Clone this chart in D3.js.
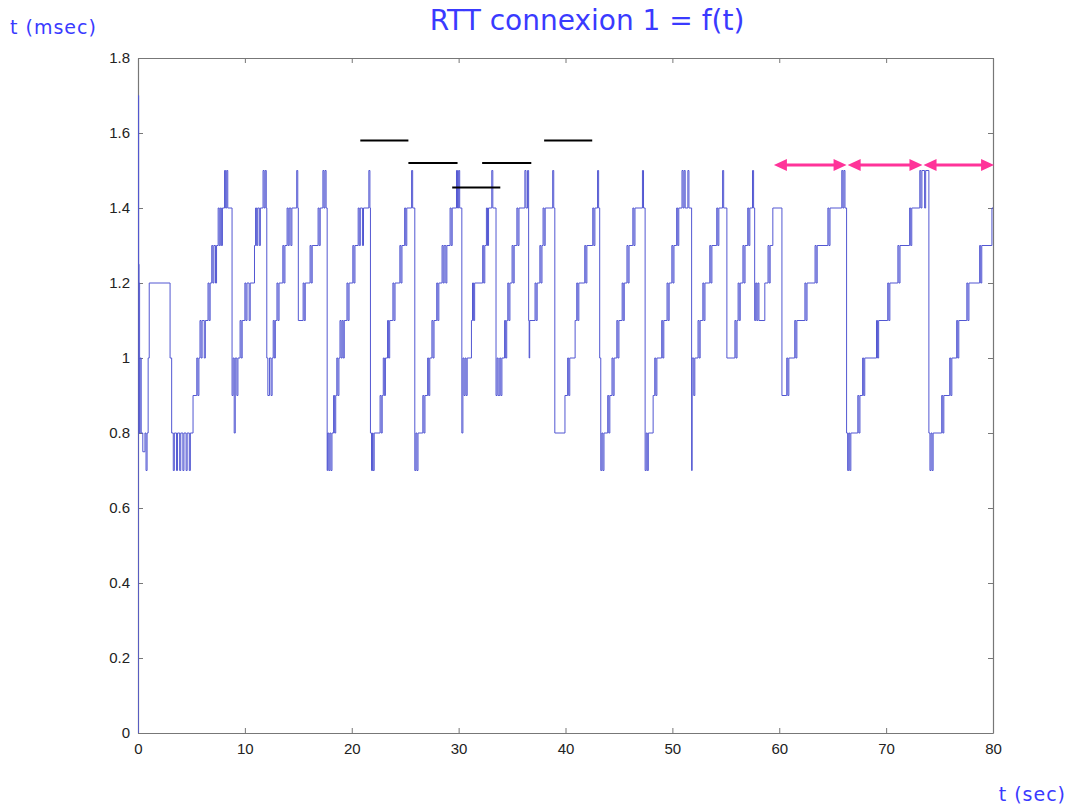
<!DOCTYPE html>
<html>
<head>
<meta charset="utf-8">
<script src="https://cdn.jsdelivr.net/npm/d3@7"></script>
<style>
  body { margin: 0; background: #fff; }
  text { font-family: Arial, "Liberation Sans", sans-serif; }
</style>
</head>
<body>
<svg id="chart" width="1069" height="805"></svg>
<script>
// RTT connexion 1 = f(t) -- step trace

const xTicks = [0, 10, 20, 30, 40, 50, 60, 70, 80];
const yTicks = [0, 0.2, 0.4, 0.6, 0.8, 1, 1.2, 1.4, 1.6, 1.8];

// [t (sec), rtt (msec)] breakpoints, held until the next one
const rttSamples = [
  [0,0],[0.03,1.7],[0.06,1.25],[0.1,1.2],[0.15,0.8],[0.2,1.0],[0.3,0.8],[0.45,0.75],[0.65,0.8],[0.75,0.7],
  [0.85,0.8],[0.95,1.0],[1.05,1.2],[3.0,1.0],[3.15,0.8],[3.3,0.7],[3.4,0.8],[3.6,0.7],[3.7,0.8],[3.9,0.7],
  [4.0,0.8],[4.2,0.7],[4.3,0.8],[4.5,0.7],[4.6,0.8],[4.8,0.7],[4.9,0.8],
  [5.15,0.9],[5.5,1.0],[5.6,0.9],[5.7,1.0],[5.8,1.1],[5.9,1.0],[6.0,1.1],[6.2,1.0],[6.3,1.1],[6.55,1.2],
  [6.65,1.1],[6.75,1.2],[6.9,1.3],[7.0,1.2],[7.1,1.3],[7.25,1.2],[7.35,1.3],[7.5,1.4],[7.6,1.3],[7.7,1.4],
  [7.8,1.3],[7.9,1.4],[8.1,1.5],[8.2,1.4],[8.3,1.5],[8.4,1.4],[8.8,0.9],[8.9,1.0],[9.0,0.8],[9.1,1.0],
  [9.25,0.9],[9.35,1.0],[9.55,1.1],[9.65,1.0],[9.75,1.1],[10.0,1.2],[10.1,1.1],[10.2,1.2],[10.4,1.1],[10.5,1.2],
  [10.9,1.3],[11.0,1.4],[11.1,1.3],[11.2,1.4],[11.35,1.3],[11.45,1.4],[11.7,1.5],[11.8,1.4],[11.9,1.5],[12.0,1.4],
  [12.05,1.0],[12.15,0.9],[12.3,1.0],[12.45,0.9],[12.55,1.0],[12.65,1.1],[12.75,1.0],[12.85,1.1],[13.0,1.2],[13.1,1.1],
  [13.2,1.2],[13.55,1.3],[13.65,1.2],[13.75,1.3],[13.95,1.4],[14.05,1.3],[14.15,1.4],[14.3,1.3],[14.4,1.4],[14.85,1.5],
  [14.95,1.4],[15.0,1.1],[15.45,1.2],[15.55,1.1],[15.65,1.2],[16.1,1.3],[16.2,1.2],[16.3,1.3],[16.85,1.4],[16.95,1.3],
  [17.05,1.4],[17.3,1.5],[17.4,1.4],[17.5,1.5],[17.6,1.4],[17.7,0.7],[17.75,0.8],[17.85,0.7],[17.95,0.8],[18.05,0.7],
  [18.15,0.8],[18.3,0.9],[18.4,0.8],[18.5,0.9],[18.6,1.0],[18.7,0.9],[18.8,1.0],[18.9,1.1],[19.0,1.0],[19.1,1.1],
  [19.2,1.0],[19.3,1.1],[19.55,1.2],[19.65,1.1],[19.75,1.2],[20.1,1.3],[20.2,1.2],[20.3,1.3],[20.6,1.4],[20.7,1.3],
  [20.8,1.4],[21.0,1.3],[21.1,1.4],[21.6,1.5],[21.7,1.4],[21.75,0.8],[21.85,0.7],[21.95,0.8],[22.0,0.7],[22.1,0.8],
  [22.65,0.9],[22.75,0.8],[22.85,0.9],[22.95,1.0],[23.05,0.9],[23.15,1.0],[23.35,1.1],[23.45,1.0],[23.55,1.1],[23.85,1.2],
  [23.95,1.1],[24.05,1.2],[24.5,1.3],[24.6,1.2],[24.7,1.3],[24.95,1.4],[25.05,1.3],[25.15,1.4],[25.6,1.5],[25.7,1.4],
  [25.9,0.7],[26.0,0.8],[26.1,0.7],[26.2,0.8],[26.65,0.9],[26.75,0.8],[26.85,0.9],[27.1,1.0],[27.2,0.9],[27.3,1.0],
  [27.5,1.1],[27.6,1.0],[27.7,1.1],[27.95,1.2],[28.05,1.1],[28.15,1.2],[28.45,1.3],[28.55,1.2],[28.65,1.3],[28.8,1.2],
  [28.9,1.3],[29.2,1.4],[29.3,1.3],[29.4,1.4],[29.8,1.5],[29.9,1.4],[30.0,1.5],[30.1,1.4],[30.3,0.8],[30.4,1.0],
  [30.5,0.9],[30.6,1.0],[30.7,0.9],[30.8,1.0],[31.2,1.1],[31.3,1.2],[31.4,1.1],[31.5,1.2],[32.25,1.3],[32.35,1.2],
  [32.45,1.3],[32.6,1.4],[32.7,1.3],[32.8,1.4],[33.1,1.5],[33.2,1.4],[33.5,0.9],[33.6,1.0],[33.7,0.9],[33.85,1.0],
  [33.95,0.9],[34.05,1.0],[34.3,1.1],[34.4,1.0],[34.5,1.1],[34.6,1.2],[34.7,1.1],[34.8,1.2],[35.0,1.3],[35.1,1.2],
  [35.2,1.3],[35.45,1.4],[35.55,1.3],[35.65,1.4],[36.2,1.5],[36.3,1.4],[36.45,1.5],[36.55,1.1],[36.6,1.0],[36.65,1.1],
  [37.15,1.2],[37.25,1.1],[37.35,1.2],[37.6,1.3],[37.7,1.2],[37.8,1.3],[37.9,1.4],[38.0,1.3],[38.1,1.4],[38.8,1.5],
  [38.9,1.4],[39.0,0.8],[39.95,0.9],[40.2,1.0],[40.3,0.9],[40.4,1.0],[40.9,1.1],[41.05,1.2],[41.15,1.1],[41.25,1.2],
  [41.8,1.3],[41.9,1.2],[42.0,1.3],[42.55,1.4],[42.65,1.3],[42.75,1.4],[43.0,1.5],[43.1,1.4],[43.2,1.0],[43.3,0.7],
  [43.4,0.8],[43.5,0.7],[43.6,0.8],[43.95,0.9],[44.05,0.8],[44.15,0.9],[44.35,1.0],[44.45,0.9],[44.55,1.0],[44.8,1.1],
  [44.9,1.0],[45.0,1.1],[45.3,1.2],[45.4,1.1],[45.5,1.2],[45.75,1.3],[45.85,1.2],[45.95,1.3],[46.3,1.4],[46.4,1.3],
  [46.5,1.4],[47.2,1.5],[47.3,1.4],[47.45,0.7],[47.55,0.8],[47.65,0.7],[47.75,0.8],[48.2,0.9],[48.35,1.0],[48.45,0.9],
  [48.55,1.0],[49.0,1.1],[49.1,1.0],[49.2,1.1],[49.5,1.2],[49.6,1.1],[49.7,1.2],[49.95,1.3],[50.05,1.2],[50.15,1.3],
  [50.4,1.4],[50.5,1.3],[50.6,1.4],[50.9,1.5],[51.0,1.4],[51.1,1.5],[51.2,1.4],[51.45,1.5],[51.55,1.4],[51.8,0.7],
  [51.85,1.0],[52.0,0.9],[52.1,1.0],[52.4,1.1],[52.5,1.0],[52.6,1.1],[52.85,1.2],[52.95,1.1],[53.05,1.2],[53.5,1.3],
  [53.6,1.2],[53.7,1.3],[54.15,1.4],[54.25,1.3],[54.35,1.4],[54.7,1.5],[54.8,1.4],[55.1,1.0],[55.85,1.1],[55.95,1.0],
  [56.05,1.1],[56.15,1.2],[56.25,1.1],[56.35,1.2],[56.6,1.3],[56.7,1.2],[56.8,1.3],[57.05,1.4],[57.15,1.3],[57.25,1.4],
  [57.5,1.5],[57.6,1.4],[57.7,1.1],[57.8,1.2],[57.9,1.1],[58.0,1.2],[58.1,1.1],[58.65,1.2],[58.95,1.3],[59.05,1.2],
  [59.15,1.3],[59.4,1.4],[60.25,0.9],[60.7,1.0],[60.8,0.9],[60.9,1.0],[61.45,1.1],[61.55,1.0],[61.65,1.1],[62.4,1.2],
  [62.5,1.1],[62.6,1.2],[63.35,1.3],[63.45,1.2],[63.55,1.3],[64.55,1.4],[64.65,1.3],[64.75,1.4],[65.85,1.5],[65.95,1.4],
  [66.05,1.5],[66.15,1.4],[66.3,0.8],[66.4,0.7],[66.5,0.8],[66.6,0.7],[66.7,0.8],[67.35,0.9],[67.45,0.8],[67.55,0.9],
  [67.8,1.0],[67.9,0.9],[68.0,1.0],[69.1,1.1],[69.2,1.0],[69.3,1.1],[70.15,1.2],[70.25,1.1],[70.35,1.2],[71.1,1.3],
  [71.2,1.2],[71.3,1.3],[72.2,1.4],[72.3,1.3],[72.4,1.4],[73.15,1.5],[73.25,1.4],[73.35,1.5],[73.6,1.4],[73.7,1.5],
  [74.0,0.8],[74.1,0.7],[74.2,0.8],[74.3,0.7],[74.4,0.8],[75.2,0.9],[75.3,0.8],[75.4,0.9],[75.95,1.0],[76.05,0.9],
  [76.15,1.0],[76.6,1.1],[76.7,1.0],[76.8,1.1],[77.55,1.2],[77.65,1.1],[77.75,1.2],[78.75,1.3],[78.85,1.2],[78.95,1.3],
  [79.9,1.4],[80,1.4]
];

// black bars marking the periods: [t start, t end, level]
const periodBars = [
  [20.8, 25.3, 1.58],
  [25.3, 29.9, 1.52],
  [29.4, 33.9, 1.455],
  [32.2, 36.8, 1.52],
  [38.0, 42.5, 1.58]
];

// pink double arrows over the last three cycles: [t start, t end, level]
const cycleArrows = [
  [59.5, 66.3, 1.515],
  [66.4, 73.4, 1.515],
  [73.5, 80.1, 1.515]
];

const svg = d3.select("#chart");
const plot = { left: 138, right: 993, top: 58, bottom: 733 };

const x = d3.scaleLinear().domain([0, 80]).range([plot.left, plot.right]);
const y = d3.scaleLinear().domain([0, 1.8]).range([plot.bottom, plot.top]);

svg.append("rect").attr("width", 1069).attr("height", 805).attr("fill", "#fff");

svg.append("defs").append("clipPath").attr("id", "clip")
  .append("rect")
  .attr("x", plot.left).attr("y", plot.top)
  .attr("width", plot.right - plot.left).attr("height", plot.bottom - plot.top);

const fmt = d => String(+d.toFixed(1));

// MATLAB style box with inward ticks on all sides
function styleAxis(g) {
  g.select(".domain").attr("stroke", "#777").attr("stroke-width", 1.2);
  g.selectAll(".tick line").attr("stroke", "#777");
  g.selectAll("text").attr("fill", "#222").style("font-size", "15px");
}

svg.append("g")
  .attr("transform", `translate(0,${plot.bottom})`)
  .call(d3.axisBottom(x).tickValues(xTicks).tickFormat(fmt).tickSizeInner(-5).tickSizeOuter(0).tickPadding(10))
  .call(styleAxis);

svg.append("g")
  .attr("transform", `translate(0,${plot.top})`)
  .call(d3.axisTop(x).tickValues(xTicks).tickFormat("").tickSizeInner(-5).tickSizeOuter(0))
  .call(styleAxis);

svg.append("g")
  .attr("transform", `translate(${plot.left},0)`)
  .call(d3.axisLeft(y).tickValues(yTicks).tickFormat(fmt).tickSizeInner(-5).tickSizeOuter(0).tickPadding(8))
  .call(styleAxis);

svg.append("g")
  .attr("transform", `translate(${plot.right},0)`)
  .call(d3.axisRight(y).tickValues(yTicks).tickFormat("").tickSizeInner(-5).tickSizeOuter(0))
  .call(styleAxis);

// the trace
const line = d3.line()
  .x(d => x(d[0]))
  .y(d => y(d[1]))
  .curve(d3.curveStepAfter);

svg.append("path")
  .datum(rttSamples)
  .attr("clip-path", "url(#clip)")
  .attr("fill", "none")
  .attr("stroke", "#5257d2")
  .attr("stroke-width", 1)
  .attr("d", line);

// period bars
svg.append("g")
  .selectAll("line")
  .data(periodBars)
  .join("line")
  .attr("x1", d => x(d[0]))
  .attr("x2", d => x(d[1]))
  .attr("y1", d => y(d[2]))
  .attr("y2", d => y(d[2]))
  .attr("stroke", "#000")
  .attr("stroke-width", 2);

// double arrows
const pink = "#ff3399";
const arrows = svg.append("g").selectAll("g").data(cycleArrows).join("g");
arrows.append("line")
  .attr("x1", d => x(d[0]) + 6)
  .attr("x2", d => x(d[1]) - 6)
  .attr("y1", d => y(d[2]))
  .attr("y2", d => y(d[2]))
  .attr("stroke", pink)
  .attr("stroke-width", 3);
arrows.append("path")
  .attr("fill", pink)
  .attr("d", d => {
    const a = x(d[0]), b = x(d[1]), c = y(d[2]);
    return `M${a},${c}L${a + 13},${c - 6}L${a + 13},${c + 6}Z` +
           `M${b},${c}L${b - 13},${c - 6}L${b - 13},${c + 6}Z`;
  });

// texts
const blue = "#3a3aff";
svg.append("text")
  .attr("x", 587).attr("y", 30)
  .attr("text-anchor", "middle")
  .attr("fill", blue)
  .style("font-family", "'DejaVu Sans', Verdana, sans-serif")
  .style("font-size", "28px")
  .text("RTT connexion 1 = f(t)");

svg.append("text")
  .attr("x", 10).attr("y", 34)
  .attr("fill", blue)
  .style("font-family", "'DejaVu Sans', Verdana, sans-serif")
  .style("font-size", "19px")
  .style("letter-spacing", "1px")
  .text("t (msec)");

svg.append("text")
  .attr("x", 1066).attr("y", 801)
  .attr("text-anchor", "end")
  .attr("fill", blue)
  .style("font-family", "'DejaVu Sans', Verdana, sans-serif")
  .style("font-size", "19px")
  .style("letter-spacing", "1px")
  .text("t (sec)");
</script>
</body>
</html>
